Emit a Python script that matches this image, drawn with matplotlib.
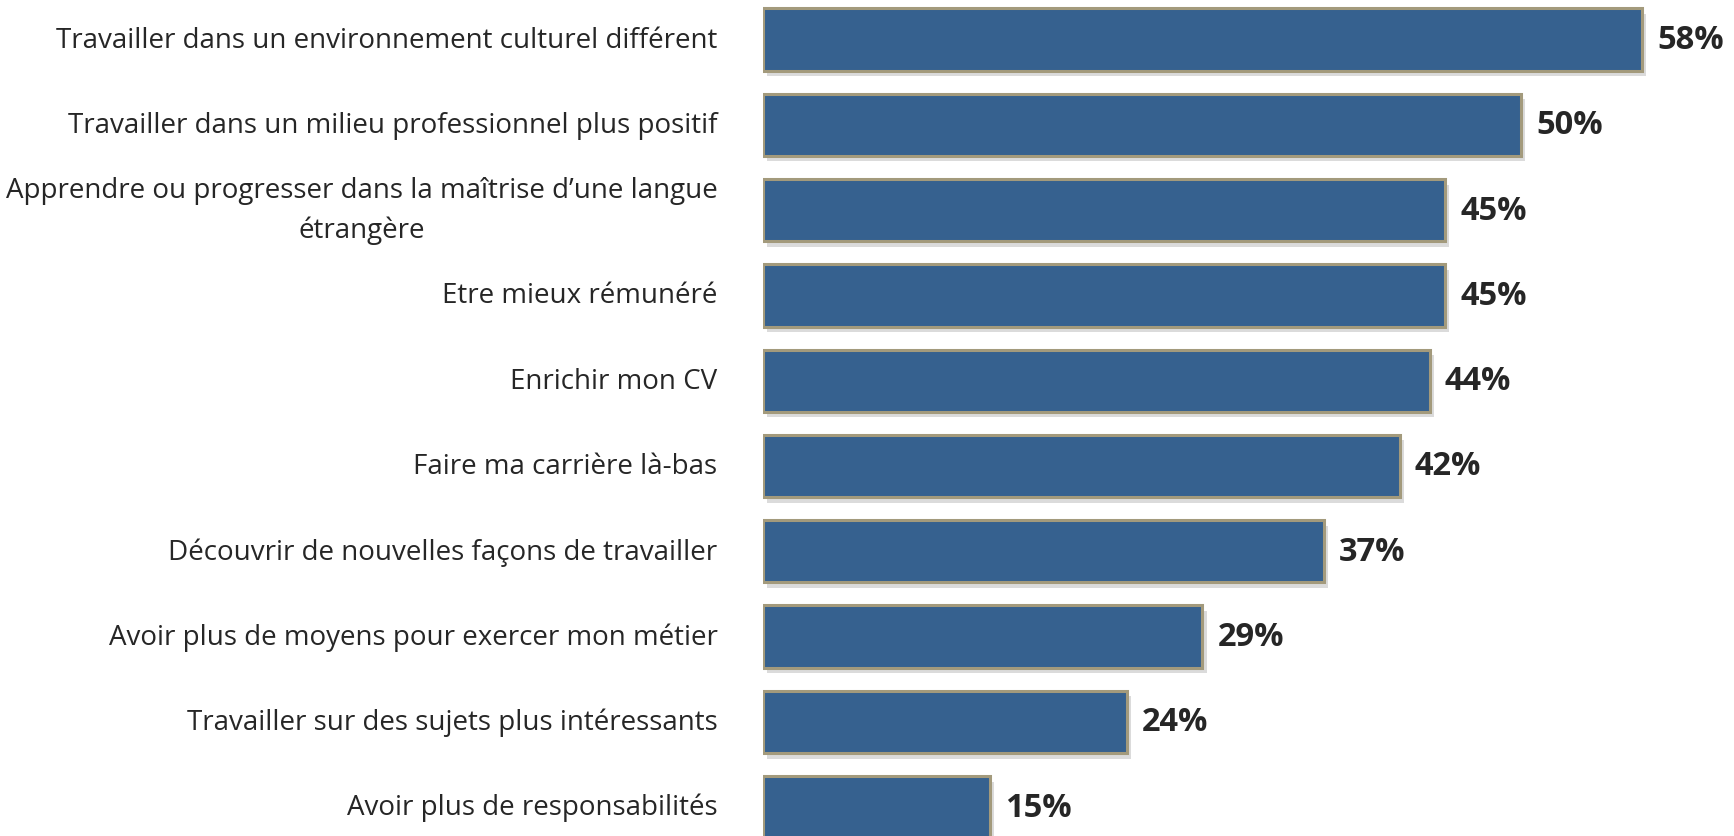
import matplotlib
matplotlib.use("Agg")
import matplotlib.pyplot as plt
import matplotlib.patheffects as pe

plt.rcParams['font.family'] = ['Open Sans', 'DejaVu Sans']

# data
labels = [
    "Travailler dans un environnement culturel différent",
    "Travailler dans un milieu professionnel plus positif",
    "Apprendre ou progresser dans la maîtrise d\u2019une langue\nétrangère",
    "Etre mieux rémunéré",
    "Enrichir mon CV",
    "Faire ma carrière là-bas",
    "Découvrir de nouvelles façons de travailler",
    "Avoir plus de moyens pour exercer mon métier",
    "Travailler sur des sujets plus intéressants",
    "Avoir plus de responsabilités",
]
values = [58, 50, 45, 45, 44, 42, 37, 29, 24, 15]

bar_color = '#36618f'
edge_color = '#a39a7c'
text_color = '#262626'

fig = plt.figure(figsize=(17.34, 8.37), dpi=100)
ax = fig.add_axes([0.44, 0.0, 0.5594, 1.0])

ypos = list(range(len(values)))
shadow = [pe.SimplePatchShadow(offset=(3, -4), shadow_rgbFace='#c4c4c4', alpha=0.6), pe.Normal()]
bars = ax.barh(ypos, values, height=0.73, color=bar_color, edgecolor=edge_color,
               linewidth=2.2, path_effects=shadow)

for y, v in zip(ypos, values):
    ax.text(v + 1.0, y, f"{v}%", va='center', ha='left', fontsize=23.5,
            fontweight='bold', color=text_color)

for y, lab in zip(ypos, labels):
    ax.text(-3.0, y, lab, va='center', ha='right', fontsize=20,
            color=text_color, multialignment='center', linespacing=1.5)

ax.set_xlim(0, 64)
ax.set_ylim(9.338, -0.475)
ax.axis('off')

fig.savefig('out.png', dpi=100)
